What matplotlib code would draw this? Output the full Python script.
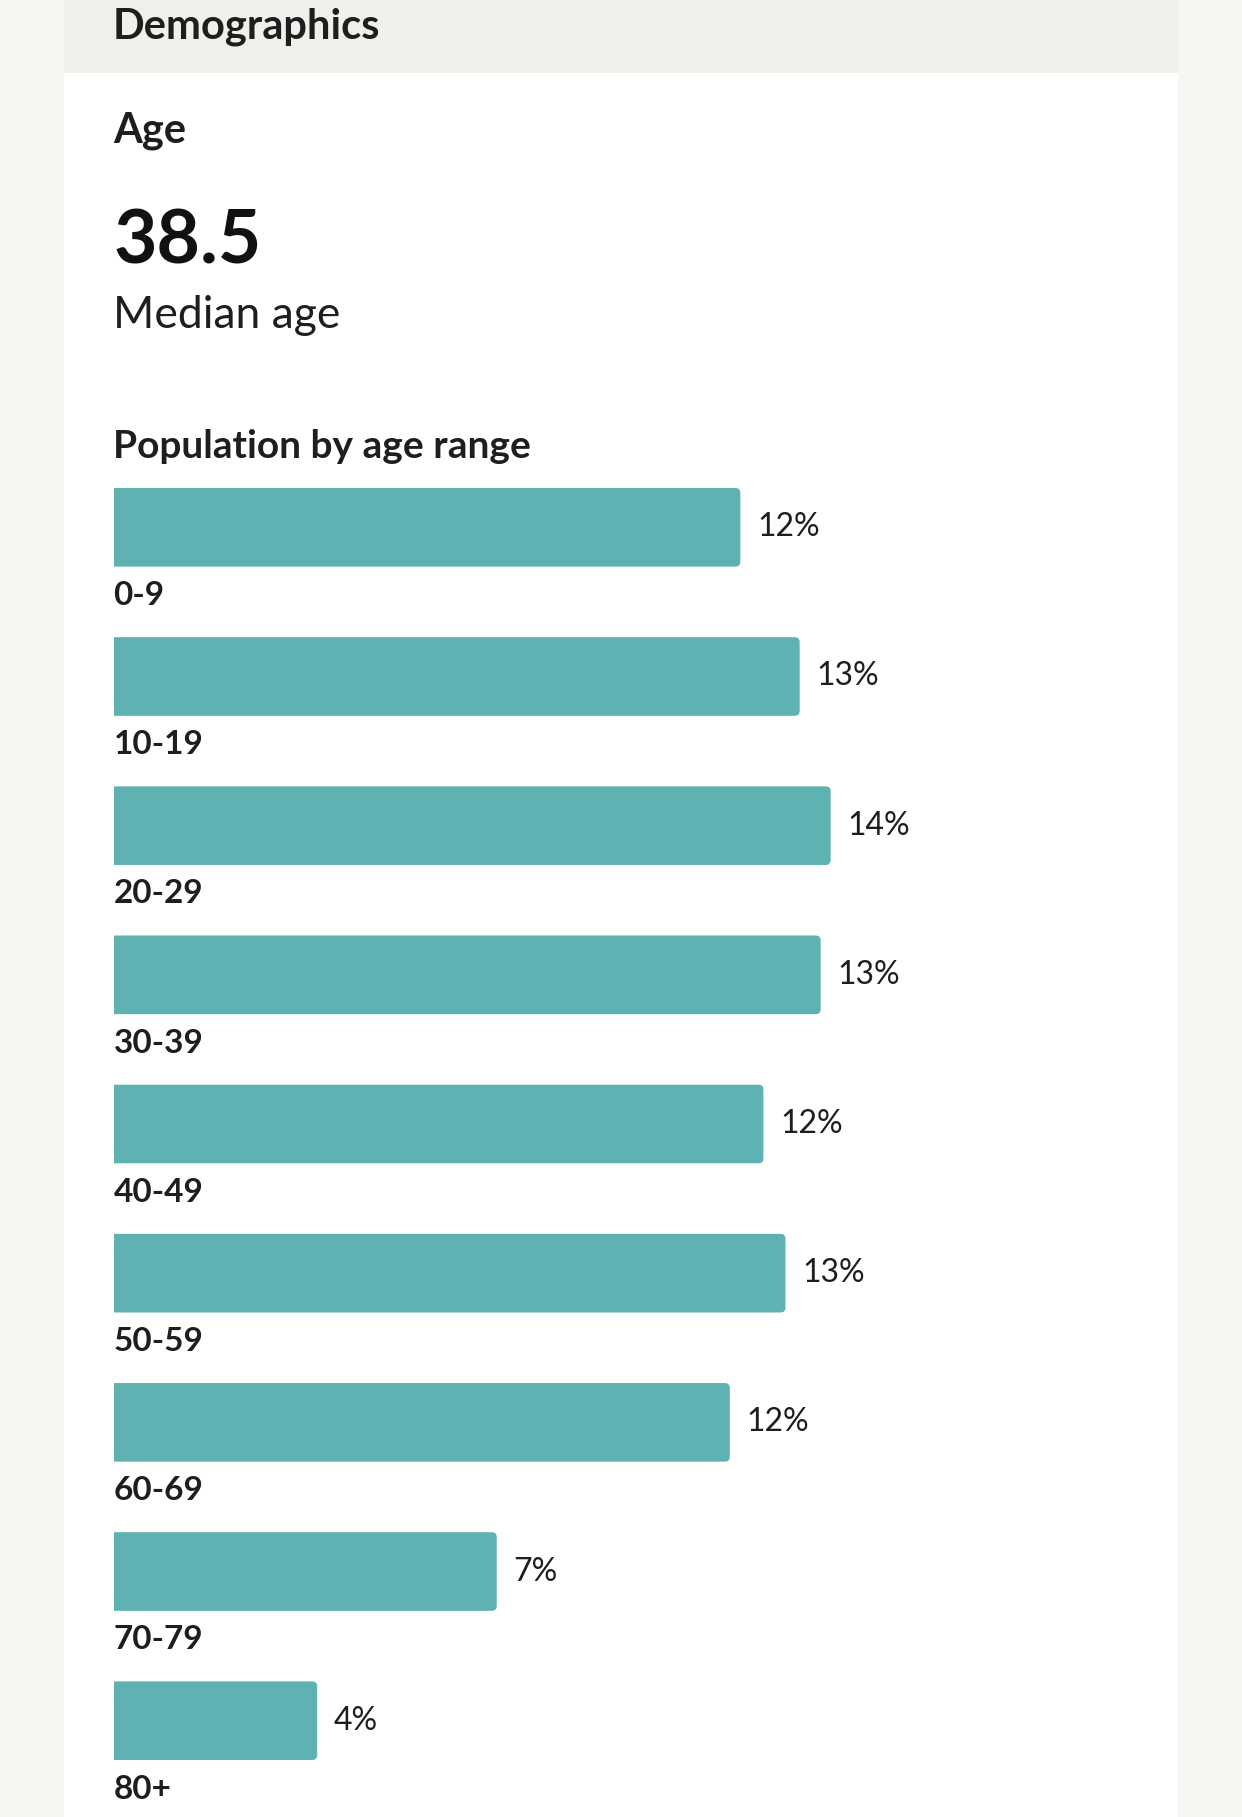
import matplotlib
matplotlib.use("Agg")
import matplotlib.pyplot as plt
from matplotlib.patches import Rectangle, PathPatch
from matplotlib.path import Path

# ---- data ----
age_ranges = ["0-9", "10-19", "20-29", "30-39", "40-49", "50-59", "60-69", "70-79", "80+"]
shares = [11.94, 13.07, 13.66, 13.47, 12.38, 12.8, 11.74, 7.3, 3.88]
share_labels = ["12%", "13%", "14%", "13%", "12%", "13%", "12%", "7%", "4%"]
median_age = "38.5"
header_title = "Demographics"
section_title = "Age"
median_caption = "Median age"
chart_title = "Population by age range"

# ---- style ----
W, H = 1242, 1817
BAR_COLOR = "#5fb2b2"
TEXT = "#1e1e1e"
OUTER_BG = "#f6f6f3"
HEADER_BG = "#efefeb"
FONT = ["Lato", "DejaVu Sans"]

fig = plt.figure(figsize=(W / 100, H / 100), dpi=100)
fig.patch.set_facecolor(OUTER_BG)

def fx(px):
    return px / W

def fy(py):
    return 1 - py / H

# card and header band
fig.patches.append(Rectangle((fx(64), 0), fx(1178 - 64), fy(73), transform=fig.transFigure,
                             facecolor="white", edgecolor="none", zorder=-10))
fig.patches.append(Rectangle((fx(64), fy(73)), fx(1178 - 64), 1 - fy(73), transform=fig.transFigure,
                             facecolor=HEADER_BG, edgecolor="none", zorder=-10))

fig.text(fx(113), fy(38), header_title, family=FONT, weight="bold", fontsize=30, color=TEXT, va="baseline")
fig.text(fx(113), fy(142), section_title, family=FONT, weight="bold", fontsize=30, color=TEXT, va="baseline")
fig.text(fx(114), fy(263), median_age, family=FONT, weight="bold", fontsize=54, color="#111111", va="baseline")
fig.text(fx(113), fy(328), median_caption, family=FONT, weight="normal", fontsize=32, color=TEXT, va="baseline")
fig.text(fx(113), fy(458), chart_title, family=FONT, weight="bold", fontsize=28, color=TEXT, va="baseline")

# bar axes
top_px, bot_px = 488, 1760
left_px, right_px = 113.5, 1130
bar_h = 0.527
ax = fig.add_axes([fx(left_px), fy(bot_px), fx(right_px - left_px), (bot_px - top_px) / H])
ax.set_facecolor("none")
ax.set_zorder(5)
n = len(age_ranges)
ypos = list(range(n))
bars = ax.barh(ypos, shares, height=bar_h, color=BAR_COLOR, edgecolor="none")
ax.set_ylim(n - 1 + bar_h / 2, -bar_h / 2)
px_per_unit_x = 52.5
ax.set_xlim(0, (right_px - left_px) / px_per_unit_x)
ax.axis("off")

px_per_unit_y = (bot_px - top_px) / (n - 1 + bar_h)
r_px = 5
rx = r_px / px_per_unit_x
ry = r_px / px_per_unit_y
for b in bars:
    x0, y0, w, hh = b.get_x(), b.get_y(), b.get_width(), b.get_height()
    b.set_visible(False)
    x1, y1 = x0 + w, y0 + hh
    verts = [(x0, y0), (x1 - rx, y0), (x1, y0), (x1, y0 + ry),
             (x1, y1 - ry), (x1, y1), (x1 - rx, y1), (x0, y1), (x0, y0)]
    codes = [Path.MOVETO, Path.LINETO, Path.CURVE3, Path.CURVE3,
             Path.LINETO, Path.CURVE3, Path.CURVE3, Path.LINETO, Path.CLOSEPOLY]
    ax.add_patch(PathPatch(Path(verts, codes), facecolor=BAR_COLOR, edgecolor="none"))

for i, (lab, v, vl) in enumerate(zip(age_ranges, shares, share_labels)):
    ax.text(0, i + bar_h / 2 + 38.5 / px_per_unit_y, lab, family=FONT, weight="bold",
            fontsize=24, color=TEXT, va="baseline", ha="left", clip_on=False)
    ax.annotate(vl, (v, i), xytext=(12, 0), textcoords="offset points",
                family=FONT, fontsize=23, color=TEXT, va="center", ha="left")

fig.savefig("out.png", dpi=100, facecolor=fig.get_facecolor())
